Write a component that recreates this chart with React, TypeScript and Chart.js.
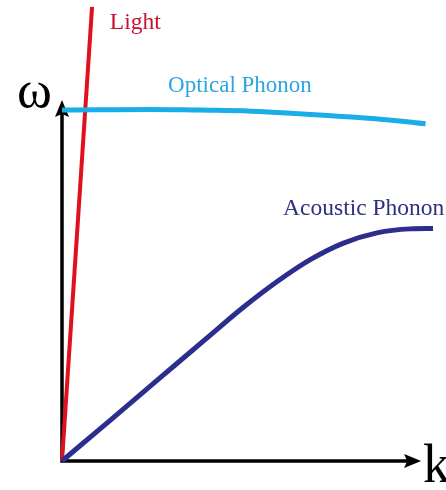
import React, { useEffect, useRef } from "react";
import { Chart, registerables } from "chart.js";

Chart.register(...registerables);

// Wave number k (normalised to the zone edge) and frequency ω for each branch
const kLight = [0, 0.081];
const wLight = [0, 1.258];

const kOptical = [0, 0.24, 0.37, 0.51, 0.64, 0.78, 0.91, 0.98];
const wOptical = [0.972, 0.974, 0.972, 0.969, 0.962, 0.953, 0.942, 0.934];

const kAcoustic = [0, 0.129, 0.264, 0.399, 0.488, 0.58, 0.668, 0.757, 0.849, 0.938, 1.0];
const wAcoustic = [0, 0.112, 0.23, 0.348, 0.425, 0.497, 0.557, 0.603, 0.632, 0.643, 0.644];

// Axis extents
const kAxisEnd = 0.968;
const wAxisEnd = 1.0;

// Text annotations: text, k, ω (baseline), colour, font size
const labelText = ["Light", "Optical Phonon", "Acoustic Phonon", "ω", "k"];
const labelK = [0.129, 0.286, 0.596, -0.121, 0.973];
const labelW = [1.197, 1.022, 0.681, 0.981, -0.058];
const labelColor = ["#c8102e", "#2aa7de", "#2e2f80", "#000000", "#000000"];
const labelSize = [23.5, 23, 23.5, 53, 54];

const RED = "#e0111f";
const CYAN = "#1aaee8";
const NAVY = "#2b2e8c";

const toPoints = (ks: number[], ws: number[]) => ks.map((k, i) => ({ x: k, y: ws[i] }));

const axesPlugin = {
  id: "arrowAxes",
  beforeDatasetsDraw(chart: any) {
    const { ctx, scales } = chart;
    const x0 = scales.x.getPixelForValue(0);
    const y0 = scales.y.getPixelForValue(0);
    const xEnd = scales.x.getPixelForValue(kAxisEnd);
    const yEnd = scales.y.getPixelForValue(wAxisEnd);
    const head = 17;
    const half = 7;
    const notch = 3;
    ctx.save();
    ctx.strokeStyle = "#000";
    ctx.fillStyle = "#000";
    ctx.lineWidth = 3.5;
    ctx.lineCap = "butt";
    ctx.beginPath();
    ctx.moveTo(x0, y0 + 1.75);
    ctx.lineTo(x0, yEnd + head - notch);
    ctx.moveTo(x0 - 1.75, y0);
    ctx.lineTo(xEnd - head + notch, y0);
    ctx.stroke();
    // y arrow head
    ctx.beginPath();
    ctx.moveTo(x0, yEnd);
    ctx.lineTo(x0 + half, yEnd + head);
    ctx.lineTo(x0, yEnd + head - notch);
    ctx.lineTo(x0 - half, yEnd + head);
    ctx.closePath();
    ctx.fill();
    // x arrow head
    ctx.beginPath();
    ctx.moveTo(xEnd, y0);
    ctx.lineTo(xEnd - head, y0 - half);
    ctx.lineTo(xEnd - head + notch, y0);
    ctx.lineTo(xEnd - head, y0 + half);
    ctx.closePath();
    ctx.fill();
    ctx.restore();
  },
  afterDraw(chart: any) {
    const { ctx, scales } = chart;
    ctx.save();
    ctx.textAlign = "left";
    ctx.textBaseline = "alphabetic";
    labelText.forEach((t, i) => {
      ctx.font = `${labelSize[i]}px "Liberation Serif", "DejaVu Serif", serif`;
      ctx.fillStyle = labelColor[i];
      ctx.fillText(t, scales.x.getPixelForValue(labelK[i]), scales.y.getPixelForValue(labelW[i]));
    });
    ctx.restore();
  },
};

export default function App() {
  const canvasRef = useRef<HTMLCanvasElement | null>(null);

  useEffect(() => {
    if (!canvasRef.current) return;
    const chart = new Chart(canvasRef.current, {
      type: "scatter",
      data: {
        datasets: [
          {
            label: "Acoustic Phonon",
            data: toPoints(kAcoustic, wAcoustic),
            showLine: true,
            borderColor: NAVY,
            borderWidth: 5,
            pointRadius: 0,
            cubicInterpolationMode: "monotone",
            clip: false,
          },
          {
            label: "Optical Phonon",
            data: toPoints(kOptical, wOptical),
            showLine: true,
            borderColor: CYAN,
            borderWidth: 5,
            pointRadius: 0,
            tension: 0.4,
            clip: false,
          },
          {
            label: "Light",
            data: toPoints(kLight, wLight),
            showLine: true,
            borderColor: RED,
            borderWidth: 4,
            pointRadius: 0,
            clip: false,
          },
        ],
      },
      options: {
        animation: false,
        responsive: true,
        maintainAspectRatio: false,
        layout: { padding: { left: 62, right: 13, top: 100, bottom: 29 } },
        plugins: { legend: { display: false }, tooltip: { enabled: false } },
        scales: {
          x: { type: "linear", min: 0, max: 1, display: false },
          y: { type: "linear", min: 0, max: 1, display: false },
        },
      },
      plugins: [axesPlugin],
    });
    return () => chart.destroy();
  }, []);

  return (
    <div style={{ position: "fixed", left: 0, top: 0, width: 446, height: 490, background: "#fff" }}>
      <canvas ref={canvasRef} />
    </div>
  );
}
